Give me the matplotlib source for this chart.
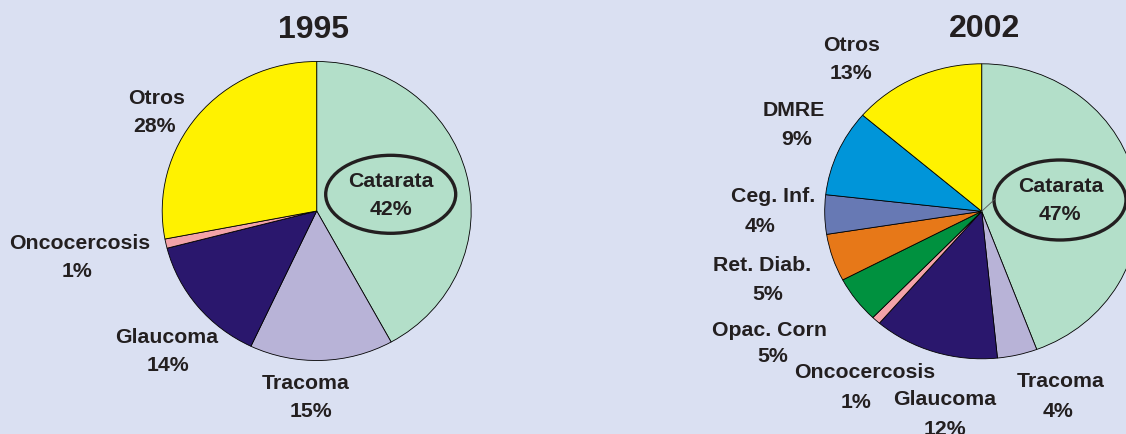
import matplotlib.pyplot as plt
from matplotlib.patches import Ellipse

# data
causes_1995 = ['Catarata', 'Tracoma', 'Glaucoma', 'Oncocercosis', 'Otros']
share_1995 = [42, 15, 14, 1, 28]
pct_1995 = [42, 15, 14, 1, 28]

causes_2002 = ['Catarata', 'Tracoma', 'Glaucoma', 'Oncocercosis', 'Opac. Corn',
               'Ret. Diab.', 'Ceg. Inf.', 'DMRE', 'Otros']
# slice sizes as drawn, and the percentages printed on the labels
share_2002 = [44.3, 4.1, 12.9, 0.9, 5.1, 5.2, 4.3, 9.5, 13.7]
pct_2002 = [47, 4, 12, 1, 5, 5, 4, 9, 13]

colors = {
    'Catarata': '#b3dfc9', 'Tracoma': '#b8b3d7', 'Glaucoma': '#2a176d',
    'Oncocercosis': '#f3a2a8', 'Opac. Corn': '#00913f', 'Ret. Diab.': '#e77818',
    'Ceg. Inf.': '#6779b4', 'DMRE': '#0095d9', 'Otros': '#fff200',
}

BG = '#dae0f2'
INK = '#231f20'
W, H = 1126, 434

# label positions in pixels: (name x, name baseline, pct x, pct baseline)
pos_1995 = {
    'Catarata': (391, 187, 391, 215),
    'Tracoma': (306, 389, 311, 417),
    'Glaucoma': (167, 343, 168, 371),
    'Oncocercosis': (80, 249, 77, 277),
    'Otros': (157, 104, 155, 132),
}
pos_2002 = {
    'Catarata': (1061, 192, 1060, 220),
    'Tracoma': (1061, 387, 1058, 417),
    'Glaucoma': (945, 405, 945, 435),
    'Oncocercosis': (865, 378, 856, 408),
    'Opac. Corn': (769, 336, 773, 362),
    'Ret. Diab.': (762, 271, 768, 300),
    'Ceg. Inf.': (773, 202, 760, 232),
    'DMRE': (794, 116, 797, 145),
    'Otros': (852, 51, 851, 79),
}

fig = plt.figure(figsize=(W / 100, H / 100), dpi=100, facecolor=BG)


def pie_axes(cx, cy, rx, ry, values, names):
    ax = fig.add_axes([(cx - rx) / W, 1 - (cy + ry) / H, 2 * rx / W, 2 * ry / H])
    ax.pie(values, colors=[colors[n] for n in names], startangle=90,
           counterclock=False, radius=1,
           wedgeprops=dict(edgecolor='black', linewidth=0.6))
    ax.set_aspect('auto')
    ax.set_xlim(-1, 1)
    ax.set_ylim(-1, 1)
    ax.axis('off')
    return ax


pie_axes(316.7, 211, 154.5, 149.5, share_1995, causes_1995)
pie_axes(981.7, 211.3, 157, 147.5, share_2002, causes_2002)

# overlay in pixel coordinates for the text and the rings
ov = fig.add_axes([0, 0, 1, 1])
ov.set_xlim(0, W)
ov.set_ylim(H, 0)
ov.axis('off')

title_font = dict(family=['Liberation Sans Narrow', 'Liberation Sans', 'DejaVu Sans'],
                  weight='bold', size=23, color=INK, ha='center', va='baseline')
ov.text(313, 37.5, '1995', **title_font)
ov.text(985, 37, '2002', **title_font)

lab_font = dict(family=['Liberation Sans', 'DejaVu Sans'], weight='bold',
                size=15.3, color=INK, ha='center', va='baseline')

for names, pcts, pos in [(causes_1995, pct_1995, pos_1995),
                         (causes_2002, pct_2002, pos_2002)]:
    for name, p in zip(names, pcts):
        nx, ny, px, py = pos[name]
        ov.text(nx, ny, name, **lab_font)
        ov.text(px, py, f'{p}%', **lab_font)

ov.add_patch(Ellipse((390.7, 194.3), 130, 78, fill=False, edgecolor=INK, linewidth=2.4))
ov.add_patch(Ellipse((1060, 200), 132, 80, fill=False, edgecolor=INK, linewidth=2.4))
# short leader from the 2002 pie centre to the ring
ov.plot([981.7, 994.5], [211.3, 199.5], color='#555555', linewidth=0.6)

fig.savefig('out.png', dpi=100, facecolor=BG)
